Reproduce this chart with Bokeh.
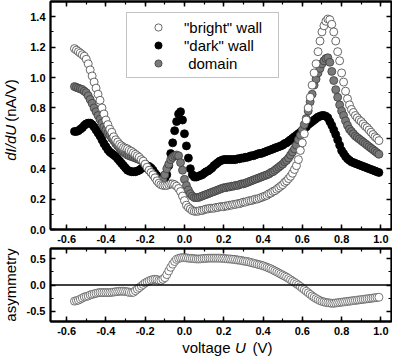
import math
from bokeh.plotting import figure
from bokeh.layouts import column, row
from bokeh.models import (ColumnDataSource, Range1d, LinearAxis, SingleIntervalTicker,
                          NumeralTickFormatter, CustomJSTickFormatter, Legend, LegendItem, Span)
from bokeh.embed import file_html
from bokeh.resources import INLINE
from bokeh.core.properties import value

# ---------------- data ----------------
voltage = [
    -0.56, -0.55, -0.54, -0.53, -0.52, -0.51, -0.50, -0.49, -0.48, -0.47,
    -0.46, -0.45, -0.44, -0.43, -0.42, -0.41, -0.40, -0.39, -0.38, -0.37,
    -0.36, -0.35, -0.34, -0.33, -0.32, -0.31, -0.30, -0.29, -0.28, -0.27,
    -0.26, -0.25, -0.24, -0.23, -0.22, -0.21, -0.20, -0.19, -0.18, -0.17,
    -0.16, -0.15, -0.14, -0.13, -0.12, -0.11, -0.10, -0.09, -0.08, -0.07,
    -0.06, -0.05, -0.04, -0.03, -0.02, -0.01, 0.00, 0.01, 0.02, 0.03,
    0.04, 0.05, 0.06, 0.07, 0.08, 0.09, 0.10, 0.11, 0.12, 0.13,
    0.14, 0.15, 0.16, 0.17, 0.18, 0.19, 0.20, 0.21, 0.22, 0.23,
    0.24, 0.25, 0.26, 0.27, 0.28, 0.29, 0.30, 0.31, 0.32, 0.33,
    0.34, 0.35, 0.36, 0.37, 0.38, 0.39, 0.40, 0.41, 0.42, 0.43,
    0.44, 0.45, 0.46, 0.47, 0.48, 0.49, 0.50, 0.51, 0.52, 0.53,
    0.54, 0.55, 0.56, 0.57, 0.58, 0.59, 0.60, 0.61, 0.62, 0.63,
    0.64, 0.65, 0.66, 0.67, 0.68, 0.69, 0.70, 0.71, 0.72, 0.73,
    0.74, 0.75, 0.76, 0.77, 0.78, 0.79, 0.80, 0.81, 0.82, 0.83,
    0.84, 0.85, 0.86, 0.87, 0.88, 0.89, 0.90, 0.91, 0.92, 0.93,
    0.94, 0.95, 0.96, 0.97, 0.98, 0.99,
]

bright_wall = [
    1.19, 1.18, 1.17, 1.16, 1.15, 1.14, 1.12, 1.09, 1.05, 1.01,
    0.97, 0.93, 0.89, 0.85, 0.80, 0.76, 0.72, 0.69, 0.66, 0.64,
    0.61, 0.59, 0.575, 0.56, 0.55, 0.54, 0.535, 0.53, 0.52, 0.515,
    0.505, 0.495, 0.485, 0.475, 0.46, 0.45, 0.43, 0.41, 0.39, 0.375,
    0.36, 0.34, 0.32, 0.305, 0.295, 0.29, 0.29, 0.29, 0.295, 0.30,
    0.30, 0.295, 0.285, 0.27, 0.25, 0.22, 0.19, 0.16, 0.145, 0.135,
    0.125, 0.12, 0.12, 0.12, 0.125, 0.125, 0.13, 0.135, 0.135, 0.14,
    0.14, 0.14, 0.145, 0.145, 0.15, 0.15, 0.15, 0.155, 0.155, 0.16,
    0.16, 0.165, 0.165, 0.17, 0.17, 0.175, 0.18, 0.18, 0.185, 0.19,
    0.19, 0.195, 0.20, 0.20, 0.205, 0.21, 0.215, 0.22, 0.225, 0.235,
    0.24, 0.25, 0.255, 0.265, 0.275, 0.285, 0.295, 0.31, 0.32, 0.335,
    0.35, 0.37, 0.395, 0.42, 0.46, 0.52, 0.57, 0.63, 0.72, 0.80,
    0.87, 0.95, 1.03, 1.09, 1.17, 1.24, 1.30, 1.34, 1.37, 1.385,
    1.38, 1.35, 1.30, 1.24, 1.17, 1.11, 1.03, 0.97, 0.91, 0.86,
    0.82, 0.79, 0.77, 0.75, 0.735, 0.72, 0.71, 0.695, 0.68, 0.67,
    0.655, 0.64, 0.625, 0.61, 0.60, 0.585,
]

dark_wall = [
    0.645, 0.645, 0.65, 0.66, 0.67, 0.685, 0.695, 0.70, 0.70, 0.69,
    0.675, 0.655, 0.635, 0.615, 0.59, 0.565, 0.545, 0.525, 0.51, 0.50,
    0.49, 0.48, 0.465, 0.45, 0.435, 0.42, 0.405, 0.39, 0.385, 0.38,
    0.38, 0.38, 0.385, 0.39, 0.40, 0.41, 0.415, 0.42, 0.415, 0.405,
    0.39, 0.37, 0.355, 0.34, 0.33, 0.33, 0.335, 0.36, 0.42, 0.50,
    0.57, 0.65, 0.71, 0.76, 0.775, 0.72, 0.63, 0.55, 0.47, 0.40,
    0.36, 0.345, 0.345, 0.35, 0.355, 0.36, 0.37, 0.38, 0.385, 0.395,
    0.405, 0.42, 0.43, 0.44, 0.45, 0.455, 0.46, 0.46, 0.46, 0.46,
    0.46, 0.46, 0.46, 0.465, 0.465, 0.47, 0.47, 0.475, 0.475, 0.48,
    0.485, 0.485, 0.49, 0.495, 0.50, 0.50, 0.505, 0.51, 0.515, 0.52,
    0.525, 0.53, 0.535, 0.54, 0.545, 0.55, 0.555, 0.565, 0.57, 0.58,
    0.59, 0.60, 0.61, 0.62, 0.63, 0.64, 0.65, 0.665, 0.675, 0.69,
    0.70, 0.71, 0.72, 0.73, 0.74, 0.745, 0.75, 0.75, 0.745, 0.735,
    0.71, 0.685, 0.655, 0.625, 0.59, 0.555, 0.52, 0.50, 0.48, 0.465,
    0.455, 0.445, 0.44, 0.435, 0.43, 0.425, 0.42, 0.415, 0.41, 0.405,
    0.40, 0.395, 0.39, 0.385, 0.38, 0.375,
]

domain = [
    0.94, 0.935, 0.93, 0.925, 0.92, 0.91, 0.90, 0.88, 0.855, 0.83,
    0.80, 0.775, 0.75, 0.725, 0.70, 0.675, 0.655, 0.635, 0.62, 0.60,
    0.585, 0.565, 0.55, 0.535, 0.52, 0.51, 0.50, 0.49, 0.485, 0.48,
    0.475, 0.47, 0.465, 0.46, 0.455, 0.445, 0.43, 0.41, 0.39, 0.375,
    0.36, 0.345, 0.33, 0.32, 0.315, 0.33, 0.36, 0.40, 0.43, 0.46,
    0.475, 0.485, 0.49, 0.485, 0.44, 0.39, 0.33, 0.29, 0.26, 0.235,
    0.22, 0.21, 0.21, 0.21, 0.215, 0.22, 0.225, 0.23, 0.235, 0.24,
    0.245, 0.25, 0.255, 0.26, 0.265, 0.27, 0.275, 0.275, 0.28, 0.28,
    0.285, 0.285, 0.29, 0.29, 0.295, 0.30, 0.30, 0.305, 0.31, 0.315,
    0.32, 0.325, 0.33, 0.335, 0.34, 0.345, 0.35, 0.355, 0.36, 0.365,
    0.375, 0.38, 0.39, 0.40, 0.41, 0.42, 0.43, 0.445, 0.455, 0.47,
    0.49, 0.51, 0.53, 0.555, 0.59, 0.62, 0.655, 0.69, 0.73, 0.78,
    0.84, 0.89, 0.95, 0.99, 1.03, 1.06, 1.09, 1.11, 1.125, 1.13,
    1.10, 1.04, 0.98, 0.92, 0.87, 0.82, 0.78, 0.75, 0.715, 0.685,
    0.66, 0.645, 0.63, 0.615, 0.605, 0.595, 0.585, 0.575, 0.565, 0.555,
    0.545, 0.535, 0.525, 0.515, 0.505, 0.495,
]

asymmetry = [
    -0.31, -0.30, -0.29, -0.27, -0.25, -0.23, -0.22, -0.21, -0.19, -0.18,
    -0.17, -0.16, -0.15, -0.145, -0.145, -0.145, -0.145, -0.145, -0.145, -0.14,
    -0.135, -0.13, -0.125, -0.12, -0.12, -0.12, -0.125, -0.13, -0.14, -0.145,
    -0.14, -0.11, -0.08, -0.05, -0.02, 0.01, 0.04, 0.06, 0.08, 0.095,
    0.105, 0.11, 0.105, 0.09, 0.09, 0.11, 0.14, 0.20, 0.27, 0.34,
    0.40, 0.45, 0.49, 0.51, 0.52, 0.525, 0.525, 0.52, 0.515, 0.51,
    0.51, 0.505, 0.50, 0.50, 0.50, 0.505, 0.51, 0.51, 0.515, 0.515,
    0.515, 0.515, 0.515, 0.515, 0.515, 0.51, 0.51, 0.505, 0.50, 0.50,
    0.495, 0.49, 0.485, 0.48, 0.475, 0.47, 0.46, 0.455, 0.45, 0.44,
    0.43, 0.42, 0.41, 0.40, 0.39, 0.38, 0.37, 0.355, 0.34, 0.325,
    0.31, 0.29, 0.27, 0.25, 0.23, 0.21, 0.19, 0.17, 0.15, 0.125,
    0.10, 0.075, 0.05, 0.025, 0.00, -0.03, -0.06, -0.09, -0.12, -0.15,
    -0.18, -0.21, -0.235, -0.26, -0.28, -0.30, -0.315, -0.325, -0.335, -0.34,
    -0.345, -0.35, -0.35, -0.345, -0.34, -0.335, -0.33, -0.325, -0.32, -0.315,
    -0.31, -0.305, -0.30, -0.295, -0.29, -0.285, -0.28, -0.275, -0.27, -0.265,
    -0.26, -0.255, -0.25, -0.245, -0.24, -0.235,
]

legend_labels = ['"bright" wall', '"dark" wall', '\u00a0domain']

# ---------------- layout constants ----------------
FONT = "Liberation Sans"
STRIP_W = 19          # left strip holding the y-axis titles
MAIN_W = 373          # data panels
TOTAL_H = 356
P1_H = 247            # top panel (frame 1..229)
P2_H = 91             # bottom panel
BOT_H = TOTAL_H - P1_H - P2_H
MB_LEFT, MB_RIGHT = 31, 1
P1_TOP, P1_BOT = 1, 18
P2_TOP, P2_BOT = 1, 17


def style_axis(ax, labels=True):
    ax.axis_line_color = "black"
    ax.axis_line_width = 1.8
    ax.major_tick_line_color = "black"
    ax.major_tick_line_width = 1.5
    ax.minor_tick_line_color = "black"
    ax.minor_tick_line_width = 1.2
    ax.major_tick_in = 5
    ax.major_tick_out = 0
    ax.minor_tick_in = 3
    ax.minor_tick_out = 0
    ax.axis_label = None
    if labels:
        ax.major_label_text_font = FONT
        ax.major_label_text_font_size = "11px"
        ax.major_label_text_font_style = "bold"
        ax.major_label_text_color = "black"
        ax.major_label_standoff = 5
    else:
        ax.formatter = CustomJSTickFormatter(code="return ''")
        ax.major_label_text_font_size = "1px"
        ax.major_label_standoff = 0


def make_fig(height, y0, y1, yint, mb_top, mb_bottom):
    p = figure(width=MAIN_W, height=height,
               x_range=Range1d(-0.682, 1.054), y_range=Range1d(y0, y1),
               output_backend="svg", toolbar_location=None, title_location=None,
               min_border_left=MB_LEFT, min_border_right=MB_RIGHT,
               min_border_top=mb_top, min_border_bottom=mb_bottom)
    p.grid.visible = False
    p.outline_line_color = "black"
    p.outline_line_width = 1.8
    p.background_fill_color = "white"
    p.border_fill_color = "white"
    fmt = NumeralTickFormatter(format="0.0")
    p.xaxis.ticker = SingleIntervalTicker(interval=0.2, num_minor_ticks=2)
    p.yaxis.ticker = SingleIntervalTicker(interval=yint, num_minor_ticks=2)
    p.xaxis.formatter = fmt
    p.yaxis.formatter = fmt
    style_axis(p.xaxis[0])
    style_axis(p.yaxis[0])
    top = LinearAxis(ticker=SingleIntervalTicker(interval=0.2, num_minor_ticks=2))
    right = LinearAxis(ticker=SingleIntervalTicker(interval=yint, num_minor_ticks=2))
    style_axis(top, labels=False)
    style_axis(right, labels=False)
    p.add_layout(top, "above")
    p.add_layout(right, "right")
    return p


def make_strip(width, height, x_range, y_range, left=0, right=0, top=0, bottom=0):
    s = figure(width=width, height=height, x_range=x_range, y_range=y_range,
               output_backend="svg", toolbar_location=None, title_location=None,
               x_axis_location=None, y_axis_location=None,
               min_border_left=left, min_border_right=right,
               min_border_top=top, min_border_bottom=bottom)
    s.grid.visible = False
    s.outline_line_color = None
    s.background_fill_color = "white"
    s.border_fill_color = "white"
    return s


txt_kw = dict(text_font=value(FONT), text_font_size="15px", text_color="black",
              text_baseline="middle")

# ---------------- top panel ----------------
src = ColumnDataSource(dict(v=voltage, b=bright_wall, d=dark_wall, m=domain, a=asymmetry))

p1 = make_fig(P1_H, 0.0, 1.5, 0.2, P1_TOP, P1_BOT)
r_dark = p1.scatter("v", "d", source=src, size=8, marker="circle",
                    fill_color="black", line_color="black", line_width=0.8)
r_dom = p1.scatter("v", "m", source=src, size=8, marker="circle",
                   fill_color="#7a7a7a", line_color="#3c3c3c", line_width=0.8)
r_bright = p1.scatter("v", "b", source=src, size=8, marker="circle",
                      fill_color="white", line_color="#444444", line_width=0.8)

legend = Legend(items=[LegendItem(label=legend_labels[0], renderers=[r_bright]),
                       LegendItem(label=legend_labels[1], renderers=[r_dark]),
                       LegendItem(label=legend_labels[2], renderers=[r_dom])],
                location=(76, 151))
legend.border_line_color = "#888888"
legend.border_line_width = 1
legend.background_fill_color = "white"
legend.background_fill_alpha = 1.0
legend.label_text_font = FONT
legend.label_text_font_size = "15px"
legend.label_text_color = "black"
legend.glyph_width = 52
legend.glyph_height = 18
legend.label_height = 18
legend.label_width = 89
legend.label_standoff = 0
legend.spacing = 0
legend.padding = 5
legend.margin = 0
p1.add_layout(legend)

# ---------------- bottom panel ----------------
p2 = make_fig(P2_H, -0.7, 0.7, 0.5, P2_TOP, P2_BOT)
p2.add_layout(Span(location=0, dimension="width", line_color="black", line_width=1.5))
p2.scatter("v", "a", source=src, size=8, marker="circle",
           fill_color="white", line_color="#555555", line_width=0.8)

# ---------------- axis titles (thin strips sharing the panels' ranges) ----------------
left1 = make_strip(STRIP_W, P1_H, Range1d(0, STRIP_W), p1.y_range, top=P1_TOP, bottom=P1_BOT)
left1.text(x=[9.5], y=[0.688], text=["dI/dU"], angle=math.pi / 2,
           text_align="right", text_font_style="italic", **txt_kw)
left1.text(x=[9.5], y=[0.709], text=["(nA/V)"], angle=math.pi / 2,
           text_align="left", **txt_kw)

left2 = make_strip(STRIP_W, P2_H, Range1d(0, STRIP_W), p2.y_range, top=P2_TOP, bottom=P2_BOT)
left2.text(x=[9.5], y=[0.0], text=["asymmetry"], angle=math.pi / 2,
           text_align="center", **txt_kw)

left3 = make_strip(STRIP_W, BOT_H, Range1d(0, STRIP_W), Range1d(0, BOT_H))
bottom = make_strip(MAIN_W, BOT_H, p2.x_range, Range1d(0, BOT_H), left=MB_LEFT, right=MB_RIGHT)
bottom.text(x=[0.2345], y=[BOT_H / 2], text=["voltage"], text_align="right", **txt_kw)
bottom.text(x=[0.2854], y=[BOT_H / 2], text=["U"], text_align="center",
            text_font_style="italic", **txt_kw)
bottom.text(x=[0.3465], y=[BOT_H / 2], text=["(V)"], text_align="left", **txt_kw)

layout = column(row(left1, p1, spacing=0), row(left2, p2, spacing=0),
                row(left3, bottom, spacing=0), spacing=0)
open("out.html", "w").write(file_html(layout, INLINE))
